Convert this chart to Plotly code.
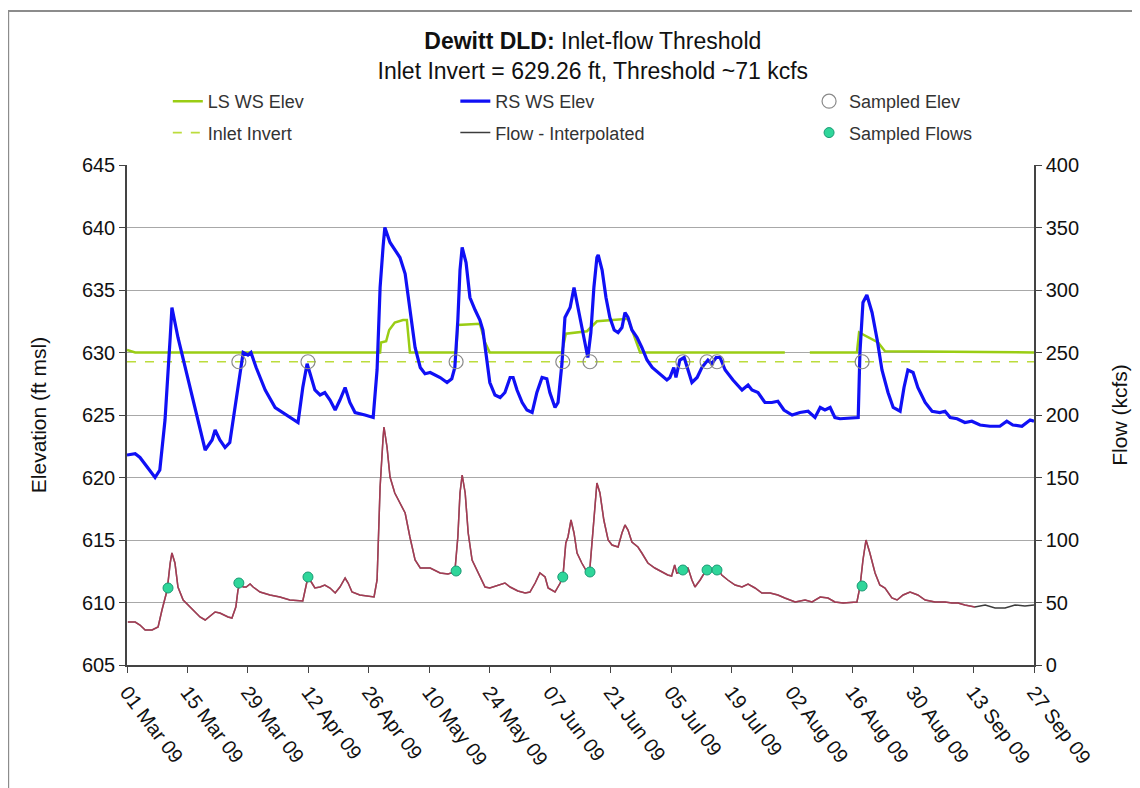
"""Dewitt DLD inlet-flow threshold chart."""

import pandas as pd
import plotly.graph_objects as go

START = pd.Timestamp("2009-03-01")
INLET_INVERT = 629.26

# RS WS Elev (blue): days after 01 Mar 09, elevation (ft msl)
rs_days = [0, 1.9, 3.0, 6.5, 7.6, 8.8, 10.0, 10.4, 11.8, 14.6, 16.9, 18.1, 19.7, 20.4,
           21.5, 22.7, 23.8, 25.0, 26.2, 26.9, 28.0, 28.7, 29.9, 32.0, 34.3, 37.7, 39.6,
           40.7, 41.7, 42.4, 43.5, 44.7, 45.8, 47.0, 48.2, 49.3, 50.5, 51.6, 52.8, 55.1,
           57.0, 57.9, 58.6, 59.3, 59.7, 60.9, 62.0, 63.2, 64.4, 65.5, 66.7, 67.9, 69.0,
           70.2, 72.5, 74.1, 75.2, 75.9, 76.6, 77.1, 77.6, 78.5, 79.4, 80.6, 81.7, 82.4,
           83.4, 84.0, 85.2, 86.4, 87.5, 88.7, 89.4, 90.3, 91.5, 92.6, 93.8, 94.9, 96.1,
           97.2, 97.9, 99.1, 99.8, 100.7, 101.4, 102.6, 103.5, 104.4, 105.3, 106.3, 106.7,
           107.4, 108.1, 108.8, 109.1, 110.0, 110.9, 111.8, 112.8, 113.7, 114.6, 115.3,
           116.0, 116.9, 118.1, 119.2, 120.4, 121.6, 123.4, 125.0, 125.7, 126.6, 127.1,
           128.0, 129.0, 129.9, 130.8, 132.0, 133.1, 134.5, 135.4, 136.4, 137.3, 138.5,
           140.3, 142.4, 143.8, 144.7, 146.1, 147.7, 149.3, 150.7, 152.1, 154.0, 155.8,
           157.7, 159.3, 160.5, 161.6, 162.8, 163.9, 165.1, 169.3, 169.7, 170.4, 171.3,
           172.5, 173.7, 174.8, 176.2, 177.4, 179.0, 179.9, 180.8, 182.0, 183.1, 184.8,
           186.4, 188.2, 189.4, 190.6, 192.2, 194.0, 195.6, 197.5, 199.8, 202.1, 203.7,
           205.1, 207.2, 209.1, 210.0]
rs_elev = [621.8, 621.9, 621.6, 620.0, 620.6, 624.6, 631.2, 633.6, 631.2, 627.2, 623.8,
           622.2, 623.0, 623.8, 623.0, 622.4, 622.8, 625.6, 628.6, 630.0, 629.8, 630.0,
           628.8, 627.0, 625.6, 624.8, 624.4, 627.2, 629.1, 628.3, 627.0, 626.6, 626.8,
           626.2, 625.4, 626.2, 627.2, 626.0, 625.2, 625.0, 624.8, 628.6, 635.2, 638.5,
           640.0, 638.8, 638.2, 637.6, 636.3, 633.4, 630.4, 628.8, 628.3, 628.4, 628.0,
           627.6, 627.9, 628.8, 632.6, 636.6, 638.4, 637.2, 634.4, 633.4, 632.6, 631.8,
           629.4, 627.6, 626.6, 626.4, 626.8, 628.0, 628.0, 627.0, 626.0, 625.4, 625.2,
           626.8, 628.0, 627.9, 626.8, 625.6, 626.0, 629.1, 632.8, 633.6, 635.2, 633.6,
           631.8, 630.0, 629.6, 631.6, 635.2, 637.6, 637.8, 636.6, 634.4, 632.8, 631.8,
           631.6, 632.0, 633.2, 632.8, 631.8, 631.2, 630.4, 629.4, 628.8, 628.3, 627.8,
           628.0, 628.8, 628.0, 629.4, 629.6, 628.6, 627.6, 628.0, 628.8, 629.4, 629.1,
           629.6, 629.6, 628.6, 627.8, 627.0, 627.4, 627.0, 626.8, 626.0, 626.0, 626.1,
           625.4, 625.0, 625.2, 625.3, 624.8, 625.6, 625.4, 625.6, 624.8, 624.7, 624.8,
           630.0, 634.0, 634.6, 633.2, 631.0, 628.6, 626.8, 625.6, 625.3, 627.2, 628.6,
           628.4, 627.2, 626.0, 625.3, 625.2, 625.3, 624.8, 624.7, 624.4, 624.5, 624.2,
           624.1, 624.1, 624.5, 624.2, 624.1, 624.6, 624.5]

# LS WS Elev (yellow-green); None marks the missing stretch in early August
ls_days = [0, 1.9, 58.6, 58.8, 60.0, 60.7, 62.0, 63.9, 64.8, 65.5, 76.2, 76.6, 81.7,
           82.9, 84.0, 100.7, 101.6, 106.5, 108.8, 116.0, 118.8, 152.3, 155.0, 158.1,
           169.0, 169.5, 173.9, 175.5, 210.0]
ls_elev = [630.2, 630.0, 630.0, 630.8, 630.9, 631.8, 632.4, 632.6, 632.6, 630.0, 630.0,
           632.2, 632.3, 630.8, 630.0, 630.0, 631.5, 631.7, 632.5, 632.7, 630.0, 630.0,
           None, 630.0, 630.0, 631.6, 630.8, 630.1, 630.0]

# Flow (kcfs)
flow_days = [0.2, 1.9, 3.0, 4.2, 5.8, 7.2, 8.1, 9.3, 10.0, 10.4, 11.1, 11.8, 13.0, 14.6,
             16.9, 18.1, 19.7, 20.4, 21.5, 23.4, 24.3, 25.2, 25.7, 26.2, 26.9, 27.6, 28.5,
             29.2, 30.8, 33.1, 35.4, 37.7, 40.7, 41.4, 41.9, 42.8, 43.5, 44.7, 45.8, 47.0,
             48.2, 49.3, 50.5, 51.2, 52.1, 53.9, 55.8, 57.2, 57.9, 58.6, 59.3, 59.5, 60.2,
             60.9, 62.0, 63.2, 64.4, 65.5, 66.7, 67.9, 69.0, 70.2, 72.5, 74.3, 75.9, 76.6,
             77.1, 77.6, 78.3, 79.0, 79.9, 80.8, 81.7, 82.9, 84.0, 85.9, 87.5, 88.7, 90.5,
             92.2, 93.3, 94.5, 95.6, 96.8, 97.5, 99.1, 100.3, 101.0, 101.6, 102.1, 102.8,
             103.5, 104.2, 105.3, 106.5, 107.2, 107.9, 108.4, 108.8, 109.5, 110.4, 111.4,
             112.3, 113.7, 114.6, 115.3, 116.0, 116.9, 118.3, 119.2, 120.6, 122.2, 123.8,
             125.2, 126.1, 126.8, 127.3, 128.3, 129.0, 129.9, 130.8, 131.5, 132.7, 133.8,
             135.0, 136.1, 136.8, 137.7, 139.1, 140.8, 142.4, 143.8, 145.4, 147.0, 148.9,
             150.7, 152.3, 154.7, 157.0, 158.6, 160.5, 162.3, 163.9, 165.8, 169.0, 169.7,
             170.4, 171.1, 172.0, 173.2, 174.3, 175.5, 177.1, 178.3, 179.7, 181.3, 183.1,
             184.8, 187.1, 189.4, 191.0, 192.4, 194.0, 196.3, 198.7, 201.0, 203.3, 205.6,
             207.9, 210.0]
flow_kcfs = [34.4, 34.4, 32.0, 28.0, 28.0, 30.4, 44.0, 60.0, 81.6, 89.6, 81.6, 62.4, 52.0,
             46.4, 38.4, 36.0, 40.0, 42.4, 41.6, 38.4, 37.6, 46.4, 60.0, 65.6, 62.4, 62.4,
             64.8, 62.4, 58.4, 56.0, 54.4, 52.0, 51.2, 62.4, 70.4, 65.6, 61.6, 62.4, 64.0,
             61.6, 57.6, 62.4, 69.6, 65.6, 58.4, 56.0, 55.2, 54.4, 68.0, 142.4, 182.4,
             190.4, 174.4, 150.4, 137.6, 129.6, 121.6, 102.4, 84.0, 77.6, 77.6, 77.6, 73.6,
             72.8, 74.4, 102.4, 137.6, 152.0, 137.6, 105.6, 84.0, 77.6, 70.4, 62.4, 61.6,
             64.0, 65.6, 62.4, 59.2, 57.6, 58.4, 65.6, 73.6, 70.4, 61.6, 58.4, 65.6, 73.6,
             97.6, 102.4, 116.0, 105.6, 89.6, 81.6, 74.4, 78.4, 108.0, 129.6, 145.6, 137.6,
             116.0, 100.0, 96.0, 94.4, 105.6, 112.0, 108.0, 98.4, 94.4, 89.6, 81.6, 77.6,
             74.4, 72.0, 71.2, 80.0, 73.6, 74.4, 78.4, 77.6, 68.0, 62.4, 68.0, 74.4, 76.0,
             76.0, 77.6, 72.0, 68.0, 64.0, 62.4, 64.8, 61.6, 57.6, 57.6, 56.0, 53.6, 50.4,
             52.0, 50.4, 54.4, 53.6, 50.4, 49.6, 50.4, 62.4, 84.0, 100.0, 89.6, 73.6, 64.0,
             61.6, 53.6, 52.0, 56.0, 58.4, 56.0, 52.0, 50.4, 50.4, 49.6, 49.6, 48.0, 46.4,
             48.0, 45.6, 45.6, 48.0, 47.2, 48.0]
MEASURED_END = 196.3  # red "measured" trace stops here, interpolated continues

# Samples
sample_flow_days = [9.5, 25.9, 41.9, 76.2, 100.9, 107.2, 128.7, 134.3, 136.6, 170.2]
sample_flow_kcfs = [61.6, 65.6, 70.4, 75.2, 70.4, 74.4, 76.0, 76.0, 76.0, 63.2]
sample_elev_days = [25.9, 41.9, 76.2, 100.9, 107.2, 128.7, 134.3, 136.6, 170.2]


def to_dates(days):
    return START + pd.to_timedelta(days, unit="D")


FONT = "Liberation Sans, Arial, sans-serif"

fig = go.Figure()

fig.add_trace(go.Scatter(
    x=to_dates(ls_days), y=ls_elev, name="LS WS Elev", mode="lines",
    line=dict(color="#9acd14", width=2.5), connectgaps=False,
    legend="legend", legendgroup="ls",
))
fig.add_trace(go.Scatter(
    x=to_dates([0, 210]), y=[INLET_INVERT, INLET_INVERT], name="Inlet Invert",
    mode="lines", line=dict(color="#bcdc3c", width=1.6, dash="dash"),
    legend="legend", legendgroup="inv",
))
fig.add_trace(go.Scatter(
    x=to_dates(rs_days), y=rs_elev, name="RS WS Elev", mode="lines",
    line=dict(color="#1010f5", width=3.2), legend="legend2", legendgroup="rs",
))
fig.add_trace(go.Scatter(
    x=to_dates(sample_elev_days), y=[INLET_INVERT] * len(sample_elev_days),
    name="Sampled Elev", mode="markers",
    marker=dict(symbol="circle-open", size=14, color="#8a8a8a", line=dict(width=1.2)),
    legend="legend3", legendgroup="se",
))

measured = [(d, f) for d, f in zip(flow_days, flow_kcfs) if d <= MEASURED_END]
fig.add_trace(go.Scatter(
    x=to_dates(flow_days), y=flow_kcfs, name="Flow - Interpolated", mode="lines",
    line=dict(color="#3c3c3c", width=1.5), yaxis="y2",
    legend="legend2", legendgroup="fi",
))
fig.add_trace(go.Scatter(
    x=to_dates([d for d, _ in measured]), y=[f for _, f in measured], name="Flow",
    mode="lines", line=dict(color="#e03a60", width=1.5), opacity=0.65,
    yaxis="y2", showlegend=False,
))
fig.add_trace(go.Scatter(
    x=to_dates(sample_flow_days), y=sample_flow_kcfs, name="Sampled Flows",
    mode="markers",
    marker=dict(symbol="circle", size=10, color="#2fd69a", line=dict(color="#1b9a74", width=1)),
    yaxis="y2", legend="legend3", legendgroup="sf",
))

legend_common = dict(
    orientation="v", yanchor="top", y=1.164, xanchor="left",
    font=dict(family=FONT, size=18, color="#333333"),
    bgcolor="rgba(0,0,0,0)", tracegroupgap=5, itemwidth=30,
)

# the page body adds an 8 px margin, so margins are trimmed by that amount
fig.update_layout(
    width=1140, height=788,
    margin=dict(l=119, r=114, t=157, b=131),
    paper_bgcolor="white", plot_bgcolor="white",
    font=dict(family=FONT, size=20, color="#111111"),
    title=dict(
        text="<b>Dewitt DLD:</b> Inlet-flow Threshold<br>"
             "Inlet Invert = 629.26 ft, Threshold ~71 kcfs",
        x=0.513, xanchor="center", y=0.948, yanchor="top",
        font=dict(family=FONT, size=23, color="#111111"),
    ),
    legend=dict(legend_common, x=0.045),
    legend2=dict(legend_common, x=0.362),
    legend3=dict(legend_common, x=0.752),
    xaxis=dict(
        type="date", range=[to_dates([0])[0], to_dates([210])[0]],
        tick0="2009-03-01", dtick=14 * 86400000, tickformat="%d %b %y",
        tickangle=53, ticks="outside", ticklen=6, tickcolor="#444",
        showline=True, linecolor="#444", linewidth=1.5, showgrid=False,
        tickfont=dict(size=20), mirror=False,
    ),
    yaxis=dict(
        title=dict(text="Elevation (ft msl)", standoff=30, font=dict(size=21)),
        range=[605, 645], dtick=5, ticks="outside", ticklen=6, tickcolor="#444",
        showline=True, linecolor="#444", linewidth=1.5,
        showgrid=True, gridcolor="#a8a8a8", gridwidth=1, zeroline=False,
    ),
    yaxis2=dict(
        title=dict(text="Flow (kcfs)", standoff=34, font=dict(size=21)),
        range=[0, 400], dtick=50, overlaying="y", side="right",
        ticks="outside", ticklen=6, tickcolor="#444",
        showline=True, linecolor="#444", linewidth=1.5,
        showgrid=False, zeroline=False,
    ),
    shapes=[dict(
        type="rect", xref="paper", yref="paper",
        x0=-0.131, x1=1.125, y0=-0.26, y1=1.308,
        line=dict(color="#8c8c8c", width=2), fillcolor="rgba(0,0,0,0)", layer="below",
    )],
)

fig.write_html("out.html")
